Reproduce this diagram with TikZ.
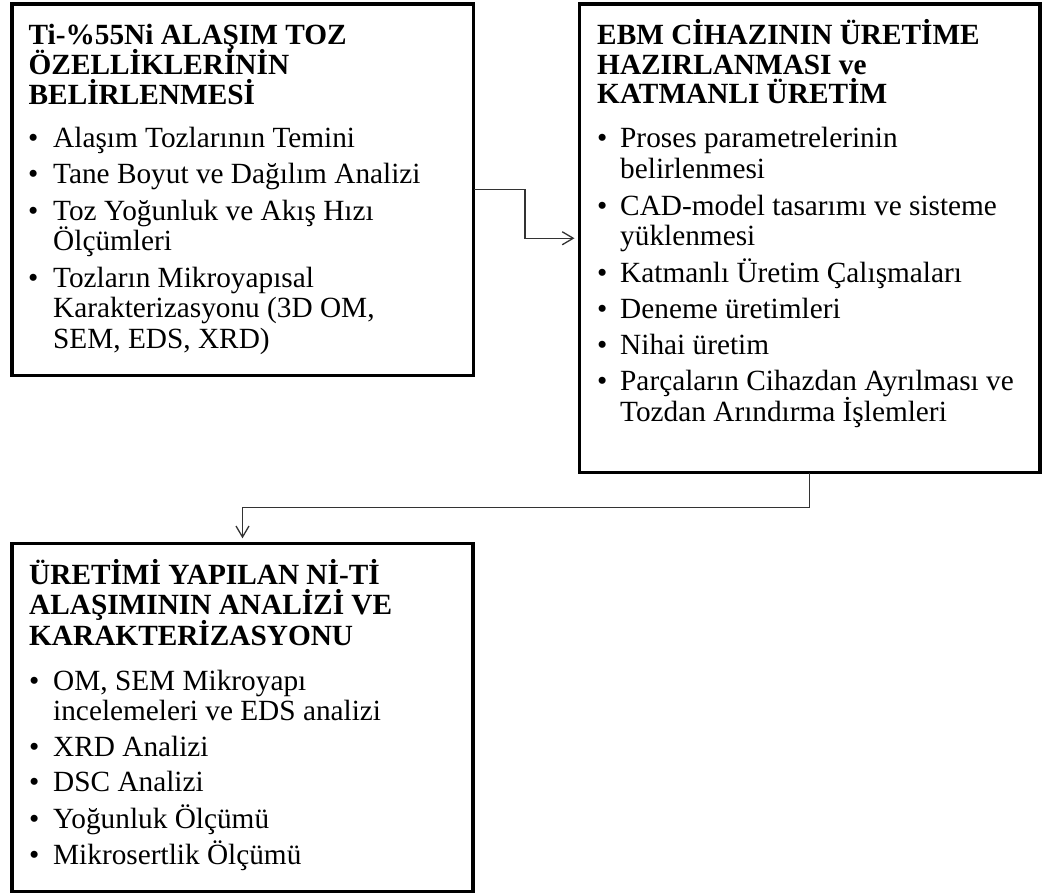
\documentclass[tikz,border=0pt]{standalone}
\usepackage{fontspec}
\setmainfont{Liberation Serif}
\usetikzlibrary{arrows.meta}
\tikzset{
  box/.style={draw=black, line width=3.5pt, rectangle, inner sep=0pt, outer sep=0pt},
  ttl/.style={font=\fontsize{29.3}{30}\selectfont\bfseries, anchor=base west, inner sep=0pt},
  itm/.style={font=\fontsize{29.3}{30}\selectfont, anchor=base west, inner sep=0pt},
  bul/.style={font=\fontsize{29.3}{30}\selectfont, anchor=base west, inner sep=0pt},
  conn/.style={draw=black!80, line width=1.3pt, -{Straight Barb[length=11pt,width=13pt]}, shorten >=5pt}
}
\begin{document}
\begin{tikzpicture}[x=1pt, y=-1pt]
\useasboundingbox (0,0) rectangle (1047,892);
% boxes
\node[box, minimum width=461.5pt, minimum height=371.5pt] (b1) at (242.75,189.75) {};
\node[box, minimum width=460.5pt, minimum height=468.5pt] (b2) at (809.75,238.25) {};
\node[box, minimum width=461pt, minimum height=348.7pt] (b3) at (242.5,717.65) {};
% box 1
\node[ttl] (t1a) at (28.5,44.5) {Ti-\%55Ni ALAŞIM TOZ};
\node[ttl] (t1b) at (28.5,74.3) {ÖZELLİKLERİNİN};
\node[ttl] (t1c) at (28.5,104) {BELİRLENMESİ};
\node[bul] (p1a) at (28,147.7) {•};
\node[itm] (i1a) at (53,147.7) {Alaşım Tozlarının Temini};
\node[bul] (p1b) at (28,183.5) {•};
\node[itm] (i1b) at (53,183.5) {Tane Boyut ve Dağılım Analizi};
\node[bul] (p1c) at (28,220) {•};
\node[itm] (i1c) at (53,220) {Toz Yoğunluk ve Akış Hızı};
\node[itm] (i1d) at (53,250.5) {Ölçümleri};
\node[bul] (p1e) at (28,287) {•};
\node[itm] (i1e) at (53,287) {Tozların Mikroyapısal};
\node[itm] (i1f) at (53,317.5) {Karakterizasyonu (3D OM,};
\node[itm] (i1g) at (53,348.5) {SEM, EDS, XRD)};
% box 2
\node[ttl] (t2a) at (597,44.3) {EBM CİHAZININ ÜRETİME};
\node[ttl] (t2b) at (597,74) {HAZIRLANMASI ve};
\node[ttl] (t2c) at (597,103.5) {KATMANLI ÜRETİM};
\node[bul] (p2a) at (597,147.7) {•};
\node[itm] (i2a) at (620,147.7) {Proses parametrelerinin};
\node[itm] (i2b) at (620,178) {belirlenmesi};
\node[bul] (p2c) at (597,215) {•};
\node[itm] (i2c) at (620,215) {CAD-model tasarımı ve sisteme};
\node[itm] (i2d) at (620,245.5) {yüklenmesi};
\node[bul] (p2e) at (597,282.5) {•};
\node[itm] (i2e) at (620,282.5) {Katmanlı Üretim Çalışmaları};
\node[bul] (p2f) at (597,318.5) {•};
\node[itm] (i2f) at (620,318.5) {Deneme üretimleri};
\node[bul] (p2g) at (597,354) {•};
\node[itm] (i2g) at (620,354) {Nihai üretim};
\node[bul] (p2h) at (597,390.5) {•};
\node[itm] (i2h) at (620,390.5) {Parçaların Cihazdan Ayrılması ve};
\node[itm] (i2i) at (620,421) {Tozdan Arındırma İşlemleri};
% box 3
\node[ttl] (t3a) at (29,584) {ÜRETİMİ YAPILAN Nİ-Tİ};
\node[ttl] (t3b) at (29,614.5) {ALAŞIMININ ANALİZİ VE};
\node[ttl] (t3c) at (29,645) {KARAKTERİZASYONU};
\node[bul] (p3a) at (29,690) {•};
\node[itm] (i3a) at (53,690) {OM, SEM Mikroyapı};
\node[itm] (i3b) at (53,720.5) {incelemeleri ve EDS analizi};
\node[bul] (p3c) at (29,756) {•};
\node[itm] (i3c) at (53,756) {XRD Analizi};
\node[bul] (p3d) at (29,791.5) {•};
\node[itm] (i3d) at (53,791.5) {DSC Analizi};
\node[bul] (p3e) at (29,828) {•};
\node[itm] (i3e) at (53,828) {Yoğunluk Ölçümü};
\node[bul] (p3f) at (29,864.5) {•};
\node[itm] (i3f) at (53,864.5) {Mikrosertlik Ölçümü};
% connectors
\coordinate (c1) at (525,214);
\coordinate (c2) at (525,507.5);
\draw[conn] (b1.east) -| (c1) |- (b2.west);
\draw[conn] (b2.south) |- (c2) -| (b3.north);
\end{tikzpicture}
\end{document}
